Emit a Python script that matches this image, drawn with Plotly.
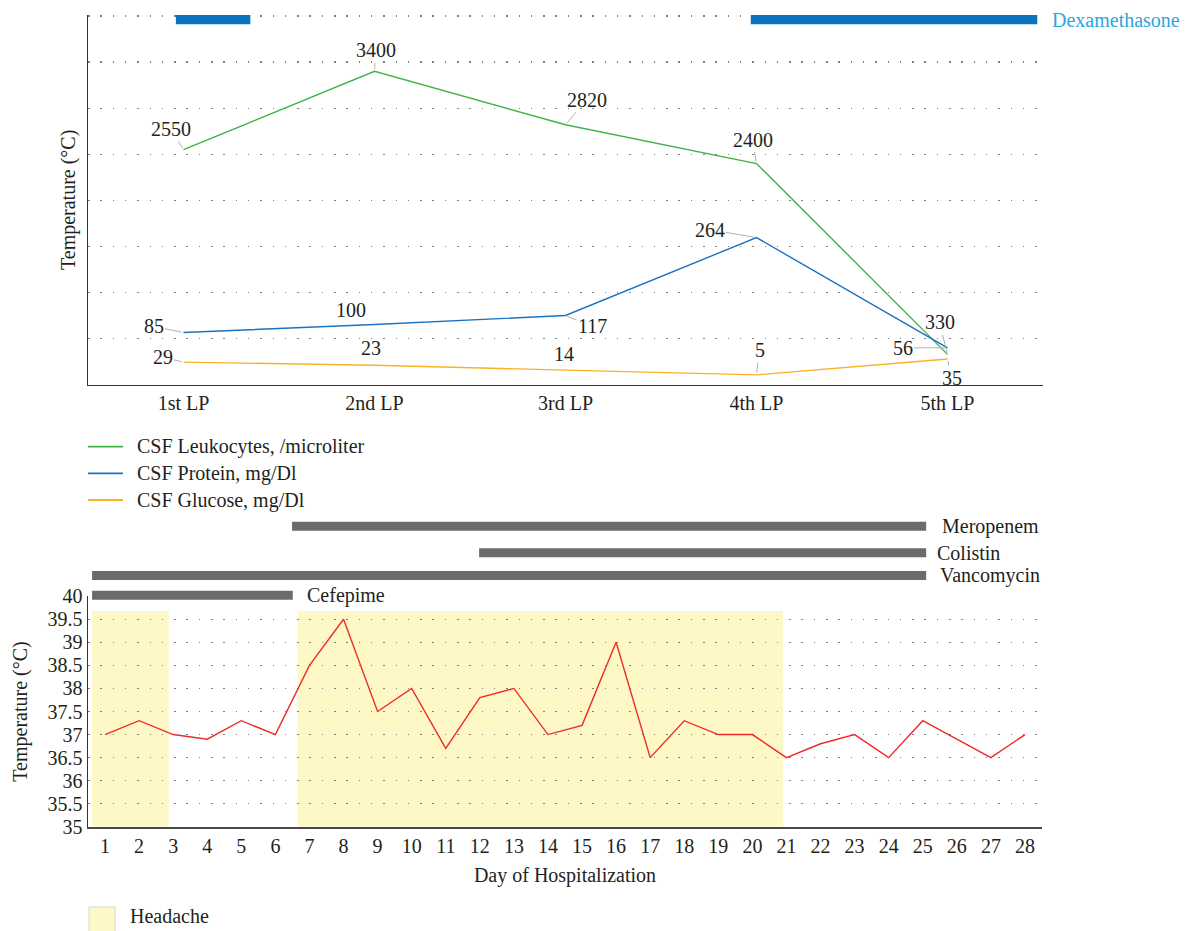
import plotly.graph_objects as go

W, H = 1198, 931

# ---------------- data ----------------
lp_labels = ["1st LP", "2nd LP", "3rd LP", "4th LP", "5th LP"]
csf_leukocytes = [2550, 3400, 2820, 2400, 330]
csf_protein = [85, 100, 117, 264, 56]
csf_glucose = [29, 23, 14, 5, 35]

dexa_start = [-0.04, 2.97]          # in LP-position units
dexa_end = [0.35, 4.47]

days = list(range(1, 29))
temperature = [37.0, 37.3, 37.0, 36.9, 37.3, 37.0, 38.5, 39.5, 37.5, 38.0,
               36.7, 37.8, 38.0, 37.0, 37.2, 39.0, 36.5, 37.3, 37.0, 37.0,
               36.5, 36.8, 37.0, 36.5, 37.3, 36.9, 36.5, 37.0]

antibiotics = ["Meropenem", "Colistin", "Vancomycin", "Cefepime"]
abx_start = [6.49, 11.98, 0.62, 0.62]
abx_end = [25.1, 25.1, 25.1, 6.51]

headache_start = [0.62, 6.65]
headache_end = [2.87, 20.9]

series_names = ["CSF Leukocytes, /microliter", "CSF Protein, mg/Dl", "CSF Glucose, mg/Dl"]

# ---------------- styling / layout helpers ----------------
FONT = "Liberation Serif"
FS = 20
TXT = "#231f20"
GREEN, BLUE, GOLD = "#3fb549", "#1b72c0", "#fbb122"
RED = "#ee2a2a"
BAR_GRAY = "#6d6a6b"
DEXA_BLUE, DEXA_TXT = "#0a73bc", "#2aa7df"
SHADE = "#fef8c6"
GRID = dict(showgrid=True, gridcolor="#808080", gridwidth=1.3, griddash="1.5px,10.8px")


def fx(p):
    return p / W


def fy(p):
    return 1 - p / H


# top panel geometry: value 0 at pixel 384.8, 0.0922 px per unit
TOP_ZERO, TOP_SCALE = 384.8, 0.0922
Y1_MAX = 4012
TOP_PIX = TOP_ZERO - Y1_MAX * TOP_SCALE
# protein / glucose secondary scale: zero at 377.5 px, 0.53 px per unit
Y2_ZERO, Y2_SCALE = 377.5, 0.53
y2_range = [-(TOP_ZERO - Y2_ZERO) / Y2_SCALE, (Y2_ZERO - TOP_PIX) / Y2_SCALE]

dexa_y = (TOP_ZERO - 19.7) / TOP_SCALE
dexa_w = 9.3 / TOP_SCALE

lane_y = {"Meropenem": H - 526.2, "Colistin": H - 552.7,
          "Vancomycin": H - 575.5, "Cefepime": H - 595.3}
lane_shift = {"Meropenem": 14, "Colistin": 9, "Vancomycin": 12, "Cefepime": 12}

lp_x = list(range(len(lp_labels)))
colors = [GREEN, BLUE, GOLD]

fig = go.Figure()

# ---- top panel lines ----
fig.add_trace(go.Scatter(x=lp_x, y=csf_leukocytes, mode="lines", name=series_names[0],
                         line=dict(color=GREEN, width=1.4), xaxis="x", yaxis="y"))
fig.add_trace(go.Scatter(x=lp_x, y=csf_protein, mode="lines", name=series_names[1],
                         line=dict(color=BLUE, width=1.4), xaxis="x", yaxis="y2"))
fig.add_trace(go.Scatter(x=lp_x, y=csf_glucose, mode="lines", name=series_names[2],
                         line=dict(color=GOLD, width=1.4), xaxis="x", yaxis="y2"))

# dexamethasone bars
fig.add_trace(go.Bar(orientation="h", y=[dexa_y] * len(dexa_start),
                     x=[e - s for s, e in zip(dexa_start, dexa_end)], base=dexa_start,
                     width=dexa_w, marker=dict(color=DEXA_BLUE, line=dict(width=0)),
                     xaxis="x", yaxis="y", hoverinfo="skip", name="Dexamethasone"))

# ---- bottom panel ----
fig.add_trace(go.Scatter(x=days, y=temperature, mode="lines", line=dict(color=RED, width=1.4),
                         xaxis="x2", yaxis="y3", name="Temperature"))

fig.add_trace(go.Bar(orientation="h", y=[lane_y[a] for a in antibiotics],
                     x=[e - s for s, e in zip(abx_start, abx_end)], base=abx_start,
                     width=9, marker=dict(color=BAR_GRAY, line=dict(width=0)),
                     xaxis="x2", yaxis="y4", hoverinfo="skip", name="Antibiotics"))

annotations = []

# value labels on top panel: (ax, ay, leader)
label_offsets = {
    0: [(-13, -21, True), (1, -21, True), (21, -25, True), (-4, -24, True), (-8, -32, True)],
    1: [(-30, -6, True), (-24, -15, False), (27, 11, True), (-47, -8, True), (-45, 0, True)],
    2: [(-21, -5, True), (-4, -17, False), (-2, -16, False), (3, -25, True), (4, 19, True)],
}
series = [(csf_leukocytes, "y"), (csf_protein, "y2"), (csf_glucose, "y2")]
for si, (vals, yref) in enumerate(series):
    for i, v in enumerate(vals):
        ax, ay, leader = label_offsets[si][i]
        base = dict(x=lp_x[i], y=v, xref="x", yref=yref, text=str(v),
                    font=dict(family=FONT, size=FS, color=TXT))
        if leader:
            base.update(showarrow=True, arrowhead=0, arrowwidth=1, arrowcolor="#b0b0b0",
                        ax=ax, ay=ay, standoff=2)
        else:
            base.update(showarrow=False, xshift=ax, yshift=-ay)
        annotations.append(base)

annotations.append(dict(x=dexa_end[-1], y=dexa_y, xref="x", yref="y", text="Dexamethasone",
                        showarrow=False, xanchor="left", xshift=13,
                        font=dict(family=FONT, size=FS, color=DEXA_TXT)))

for a, e in zip(antibiotics, abx_end):
    annotations.append(dict(x=e, y=lane_y[a], xref="x2", yref="y4", text=a, showarrow=False,
                            xanchor="left", xshift=lane_shift[a],
                            font=dict(family=FONT, size=FS, color=TXT)))

shapes = []
# legend for the CSF series (key line + label)
legend_rows = [446.7, 473.3, 500.0]
for name, col, ry in zip(series_names, colors, legend_rows):
    shapes.append(dict(type="line", xref="paper", yref="paper", x0=fx(88), x1=fx(123),
                       y0=fy(ry), y1=fy(ry), line=dict(color=col, width=1.8)))
    annotations.append(dict(x=fx(135), y=fy(ry), xref="paper", yref="paper", text=name,
                            showarrow=False, xanchor="left", yanchor="middle",
                            font=dict(family=FONT, size=FS, color=TXT)))

# headache shading
for s, e in zip(headache_start, headache_end):
    shapes.append(dict(type="rect", xref="x2", yref="y3", x0=s, x1=e, y0=35,
                       y1=40 - (611 - 596.2) / 46.12, fillcolor=SHADE,
                       line=dict(width=0), layer="below"))
# headache legend key
shapes.append(dict(type="rect", xref="paper", yref="paper", x0=fx(89), x1=fx(115),
                   y0=fy(933), y1=fy(907), fillcolor=SHADE, line=dict(color="#d6d6d6", width=1)))
annotations.append(dict(x=fx(128), y=fy(916), xref="paper", yref="paper", text="Headache",
                        showarrow=False, xanchor="left", yanchor="middle",
                        font=dict(family=FONT, size=FS, color=TXT)))

fig.update_layout(
    width=W, height=H,
    margin=dict(l=0, r=0, t=0, b=0, autoexpand=False),
    paper_bgcolor="white", plot_bgcolor="rgba(0,0,0,0)",
    font=dict(family=FONT, size=FS, color=TXT),
    barmode="overlay",
    showlegend=False,
    hovermode=False,
    xaxis=dict(domain=[fx(88), fx(1043)], range=[-0.5, 4.5], tickvals=lp_x, ticktext=lp_labels,
               showline=True, linecolor="#333333", linewidth=1.5, ticks="", showgrid=False,
               zeroline=False, anchor="y", tickfont=dict(size=FS), automargin=False),
    yaxis=dict(domain=[fy(TOP_ZERO), fy(TOP_PIX)], range=[0, Y1_MAX],
               tickvals=[500 * k for k in range(0, 9)], showticklabels=False, ticks="",
               showline=True, linecolor="#333333", linewidth=1.5, zeroline=False,
               title=dict(text="Temperature (°C)", standoff=5, font=dict(size=FS)),
               anchor="x", automargin=False, **GRID),
    yaxis2=dict(overlaying="y", range=y2_range, visible=False, anchor="x", automargin=False),
    xaxis2=dict(domain=[fx(88), fx(1042)], range=[0.5, 28.5], tickvals=days,
                showline=True, linecolor="#4a4a4a", linewidth=2, ticks="", showgrid=False,
                zeroline=False, anchor="y3", tickfont=dict(size=FS), automargin=False,
                title=dict(text="Day of Hospitalization", font=dict(size=FS), standoff=12)),
    yaxis3=dict(domain=[fy(826.8), fy(596.2)], range=[35, 40],
                tickvals=[35 + 0.5 * k for k in range(11)],
                ticktext=[("%g" % (35 + 0.5 * k)) for k in range(11)],
                showline=True, linecolor="#333333", linewidth=1.5, ticks="", zeroline=False,
                anchor="x2", tickfont=dict(size=FS), automargin=False,
                title=dict(text="Temperature (°C)", standoff=14, font=dict(size=FS)), **GRID),
    yaxis4=dict(domain=[fy(612), fy(512)], range=[H - 612, H - 512], visible=False,
                anchor="x2", automargin=False),
    annotations=annotations,
    shapes=shapes,
)

fig.write_html("out.html", config={"displayModeBar": False, "staticPlot": True},
               post_script="document.body.style.margin='0px';")
